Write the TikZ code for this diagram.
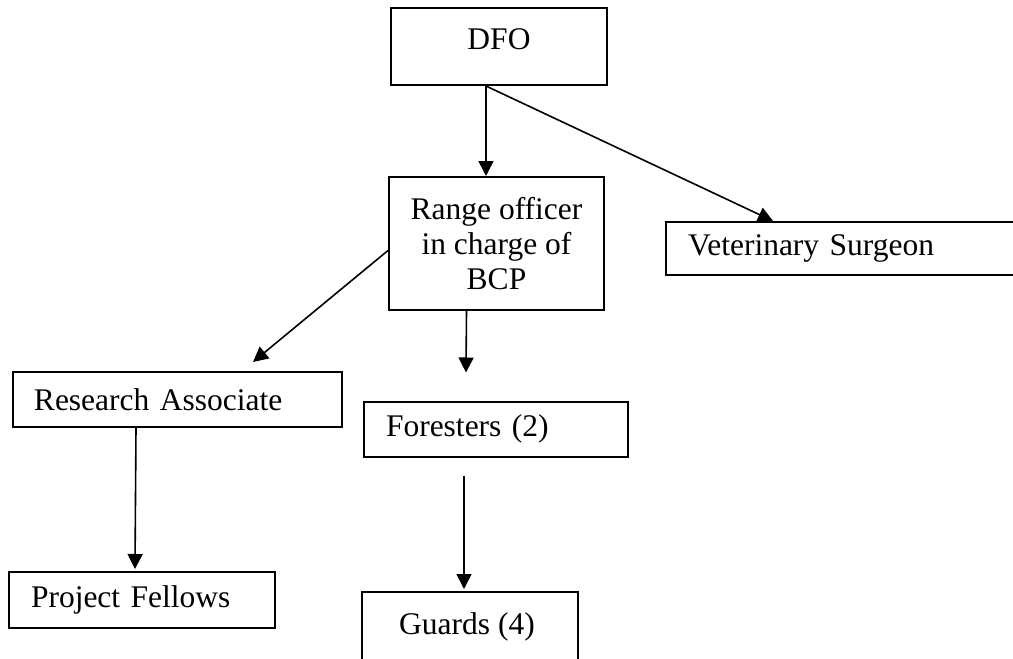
\documentclass[tikz,border=0pt]{standalone}
\usepackage{fontspec}
\setmainfont{Liberation Serif}
\usetikzlibrary{arrows.meta}
\begin{document}
\begin{tikzpicture}[x=1pt,y=-1pt,
  box/.style={draw=black, line width=2pt, inner ysep=0pt, font=\fontsize{31.5}{35}\selectfont},
  arr/.style={line width=1.6pt, -{Triangle[length=15pt,width=15pt]}}]
\useasboundingbox (0,0) rectangle (1013,659);
\fill[white] (0,0) rectangle (1013,659);
% boxes
\node[box, minimum width=216pt, minimum height=77pt, text height=21pt, text depth=15pt, inner xsep=0pt] (dfo) at (499,46.5) {DFO};
\node[box, minimum width=215pt, minimum height=133pt, align=center, inner xsep=0pt] (r) at (496.5,243.5) {Range officer\\in charge of\\BCP};
\node[box, anchor=west, inner xsep=22pt, text width=336pt, align=left, minimum height=53pt] (v) at (665,248.5) {Veterinary Surgeon};
\node[box, anchor=west, inner xsep=21pt, text width=287pt, align=left, minimum height=55pt] (ra) at (12,399.5) {Research Associate};
\node[box, anchor=west, inner xsep=22pt, text width=220pt, align=left, minimum height=55pt] (f) at (363,429) {Foresters (2)};
\node[box, anchor=west, inner xsep=22pt, text width=222pt, align=left, minimum height=56pt] (p) at (8,600) {Project Fellows};
\node[box, anchor=north, minimum width=216pt, minimum height=133pt, text height=21pt, text depth=70pt, inner xsep=0pt, xshift=0pt] (g) at (470,591) {\hspace*{-6pt}Guards (4)};
% connectors
\draw[arr] ([xshift=-13pt]dfo.south) -- ([xshift=-10.5pt]r.north);
\draw[arr] ([xshift=-13pt]dfo.south) -- ([xshift=108pt]v.north west);
\draw[arr] ([yshift=-7pt]r.west) -- ([xshift=241pt,yshift=9pt]ra.north west);
\draw[arr] ([xshift=-30pt]r.south) -- ([xshift=103pt,yshift=28pt]f.north west);
\draw[arr] ([xshift=101pt,yshift=-18pt]f.south west) -- ([xshift=-6pt,yshift=2pt]g.north);
\draw[arr] ([xshift=124pt]ra.south west) -- ([xshift=127pt,yshift=2pt]p.north west);
\end{tikzpicture}
\end{document}
